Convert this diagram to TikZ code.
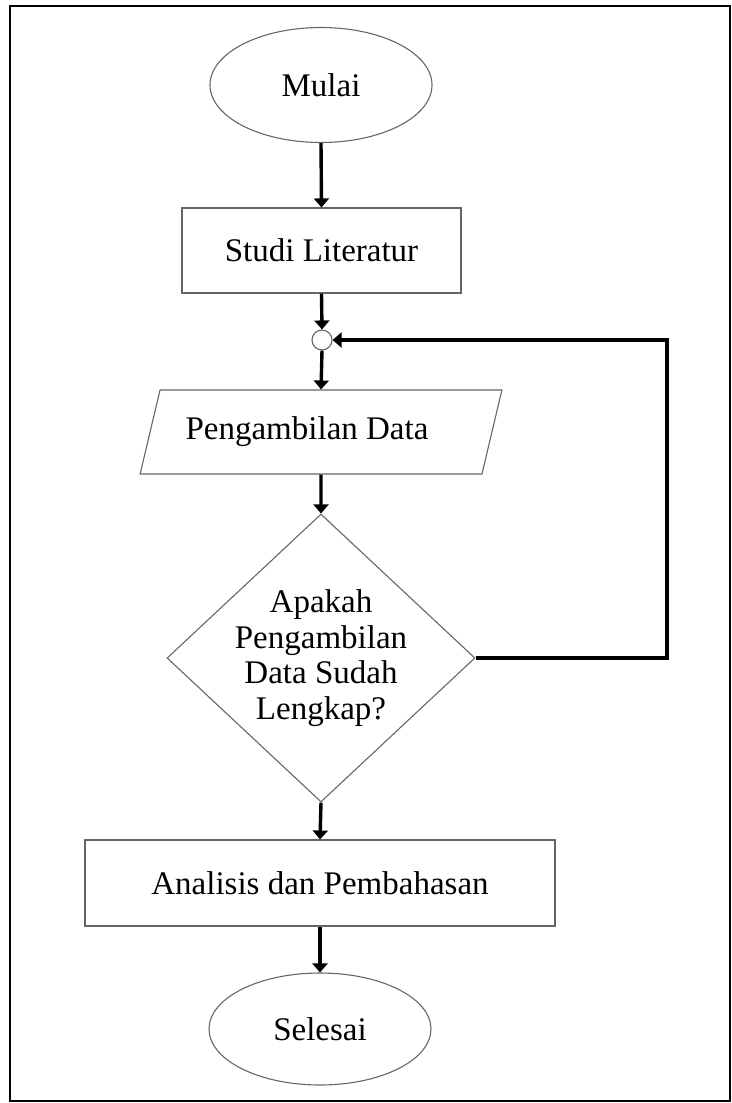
\documentclass[tikz,border=0pt]{standalone}
\usepackage{fontspec}
\setmainfont{Liberation Serif}
\usetikzlibrary{shapes.geometric,arrows.meta,positioning}

\tikzset{
    shapeline/.style={draw=black!60, line width=1.1pt},
    terminal/.style={shapeline, ellipse, minimum width=222pt, minimum height=115pt, inner sep=0pt},
    process/.style={shapeline, rectangle, minimum height=85pt, inner sep=0pt},
    iobox/.style={shapeline, trapezium, trapezium left angle=63.4, trapezium right angle=116.6,
        trapezium stretches=true, minimum width=362pt, minimum height=84pt, inner sep=0pt},
    decision/.style={shapeline, diamond, minimum width=308pt, minimum height=288pt, inner sep=0pt},
    flow/.style={line width=3.4pt, -{Triangle[length=9pt,width=15pt]}},
    txt/.style={font=\fontsize{33}{35.5}\selectfont}
}

\begin{document}
\begin{tikzpicture}[x=1pt, y=-1pt]

    % Frame
    \useasboundingbox (0,0) rectangle (731,1103);
    \draw[line width=2pt] (10,6) rectangle (729.5,1101);

    % Steps
    \node[terminal, txt] (mulai) at (321,85) {Mulai};
    \node[process, txt, minimum width=279pt] (studi) at (321.5,250.5) {Studi Literatur};
    \node[shapeline, circle, minimum size=20pt, inner sep=0pt] (join) at (322,340) {};
    \node[iobox, txt] (data) at (321,432) {\phantom{Pengambilan Data}};
    \node[txt] (datatext) at (307,432) {Pengambilan Data};
    \node[decision] (cek) at (321,658) {};
    \node[txt, align=center] (cektext) at (cek.center) {Apakah\\Pengambilan\\Data Sudah\\Lengkap?};
    \node[process, txt, minimum width=470pt, minimum height=86pt] (analisis) at (320,883) {Analisis dan Pembahasan};
    \node[terminal, txt, minimum height=112pt] (selesai) at (320,1029) {Selesai};

    % Arrows
    \foreach \a/\b in {mulai/studi, studi/join, join/data, data/cek, cek/analisis, analisis/selesai} {
        \draw[flow] (\a.south) -- (\b.north);
    }

    % Loop back
    \coordinate (loopcorner) at (667,658);
    \draw[flow] (cek.east) -- (loopcorner) |- (join.east);

\end{tikzpicture}
\end{document}
